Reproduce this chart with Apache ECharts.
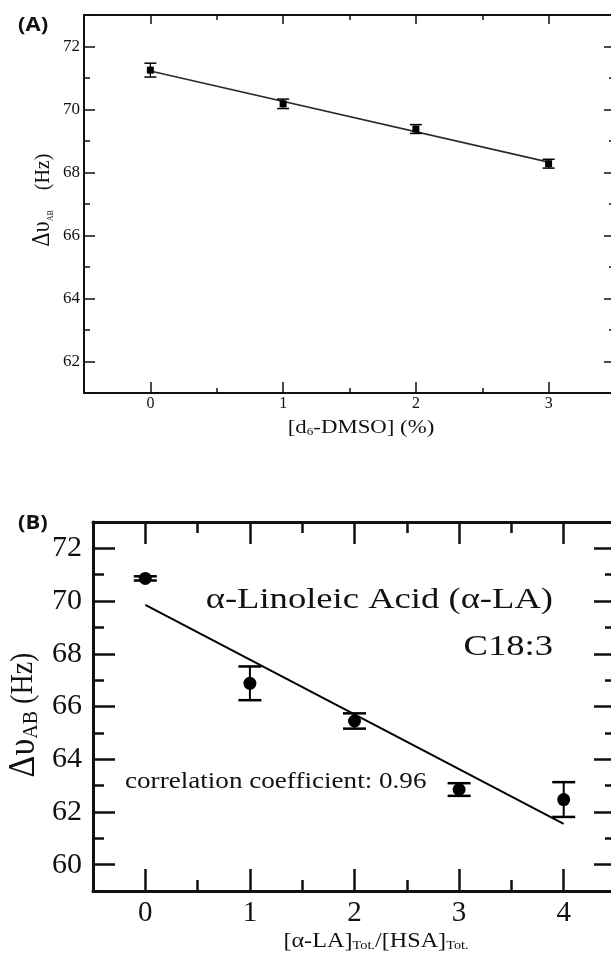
<!DOCTYPE html>
<html>
<head>
<meta charset="utf-8">
<script src="https://cdn.jsdelivr.net/npm/echarts@6/dist/echarts.min.js"></script>
<style>
  html, body { margin: 0; padding: 0; background: #fff; }
  #chart { width: 611px; height: 962px; }
</style>
</head>
<body>
<div id="chart"></div>
<script>
// Panel A: AB splitting vs d6-DMSO content
const dmsoPct = [0, 1, 2, 3];
const dmsoShift = [71.25, 70.18, 69.38, 68.28];
const dmsoErr = [0.22, 0.15, 0.14, 0.14];
const dmsoFitX = [0, 3];
const dmsoFitY = [71.22, 68.33];
const dmsoXTicks = [0, 1, 2, 3];
const dmsoYTicks = [62, 64, 66, 68, 70, 72];

// Panel B: AB splitting vs alpha-linolenic acid / HSA ratio
const laRatio = [0, 1, 2, 3, 4];
const laShift = [70.86, 66.88, 65.45, 62.85, 62.47];
const laErr = [0.08, 0.64, 0.29, 0.24, 0.66];
const laFitX = [0, 4];
const laFitY = [69.86, 61.55];
const laXTicks = [0, 1, 2, 3, 4];
const laYTicks = [60, 62, 64, 66, 68, 70, 72];

const SERIF = "'Liberation Serif', 'Times New Roman', Times, serif";

// One side of a framed plot: a major axis (line, long ticks, labels) and a
// minor axis sharing the same extent (short ticks only).
function sideAxes(o) {
  const major = {
    type: 'value', gridIndex: o.grid, position: o.position,
    min: o.min, max: o.max,
    axisLine: { show: true, onZero: false, lineStyle: { color: '#111', width: o.lw } },
    axisTick: { show: true, inside: true, length: o.majorLen, customValues: o.ticks,
                lineStyle: { color: '#111', width: o.tw } },
    axisLabel: o.labels ? {
      show: true, customValues: o.ticks, margin: o.margin,
      fontFamily: SERIF, fontSize: o.fontSize, color: '#111'
    } : { show: false },
    splitLine: { show: false }
  };
  const minor = {
    type: 'value', gridIndex: o.grid, position: o.position,
    min: o.min, max: o.max, interval: o.minorStep,
    axisLine: { show: false, onZero: false },
    axisTick: { show: true, inside: true, length: o.minorLen,
                lineStyle: { color: '#111', width: o.tw } },
    axisLabel: { show: false },
    splitLine: { show: false }
  };
  return [major, minor];
}

const xAxes = [
  ...sideAxes({ grid: 0, position: 'bottom', min: -0.5, max: 3.5, ticks: dmsoXTicks, minorStep: 0.5,
                lw: 2, tw: 1.5, majorLen: 11, minorLen: 5, labels: true, margin: 3, fontSize: 16 }),
  ...sideAxes({ grid: 0, position: 'top', min: -0.5, max: 3.5, ticks: dmsoXTicks, minorStep: 0.5,
                lw: 2, tw: 1.5, majorLen: 9, minorLen: 5, labels: false }),
  ...sideAxes({ grid: 1, position: 'bottom', min: -0.5, max: 4.5, ticks: laXTicks, minorStep: 0.5,
                lw: 3, tw: 2.5, majorLen: 22, minorLen: 11, labels: true, margin: 8, fontSize: 29 }),
  ...sideAxes({ grid: 1, position: 'top', min: -0.5, max: 4.5, ticks: laXTicks, minorStep: 0.5,
                lw: 3, tw: 2.5, majorLen: 22, minorLen: 11, labels: false })
];
const yAxes = [
  ...sideAxes({ grid: 0, position: 'left', min: 61, max: 73, ticks: dmsoYTicks, minorStep: 1,
                lw: 2, tw: 1.5, majorLen: 11, minorLen: 6, labels: true, margin: 4, fontSize: 17 }),
  ...sideAxes({ grid: 0, position: 'right', min: 61, max: 73, ticks: dmsoYTicks, minorStep: 1,
                lw: 2, tw: 1.5, majorLen: 11, minorLen: 6, labels: false }),
  ...sideAxes({ grid: 1, position: 'left', min: 59, max: 73, ticks: laYTicks, minorStep: 1,
                lw: 3, tw: 2.5, majorLen: 22, minorLen: 11, labels: true, margin: 11, fontSize: 30 }),
  ...sideAxes({ grid: 1, position: 'right', min: 59, max: 73, ticks: laYTicks, minorStep: 1,
                lw: 3, tw: 2.5, majorLen: 22, minorLen: 11, labels: false })
];

// Vertical error bars with caps, placed through the axis scales.
function errorBars(capHalf, lw, capW) {
  return function (params, api) {
    const x = api.value(0), y = api.value(1), e = api.value(2);
    const top = api.coord([x, y + e]);
    const bot = api.coord([x, y - e]);
    const bar = { stroke: '#000', lineWidth: lw };
    const cap = { stroke: '#000', lineWidth: capW };
    return {
      type: 'group',
      children: [
        { type: 'line', shape: { x1: top[0], y1: top[1], x2: bot[0], y2: bot[1] }, style: bar },
        { type: 'line', shape: { x1: top[0] - capHalf, y1: top[1], x2: top[0] + capHalf, y2: top[1] }, style: cap },
        { type: 'line', shape: { x1: bot[0] - capHalf, y1: bot[1], x2: bot[0] + capHalf, y2: bot[1] }, style: cap }
      ]
    };
  };
}

const zip = (xs, ys) => xs.map((x, i) => [x, ys[i]]);
const zip3 = (xs, ys, es) => xs.map((x, i) => [x, ys[i], es[i]]);

const series = [
  { type: 'line', xAxisIndex: 0, yAxisIndex: 0, data: zip(dmsoFitX, dmsoFitY),
    symbol: 'none', lineStyle: { color: '#2a2a2a', width: 1.6 }, z: 2 },
  { type: 'custom', xAxisIndex: 0, yAxisIndex: 0, data: zip3(dmsoPct, dmsoShift, dmsoErr),
    encode: { x: 0, y: 1 }, renderItem: errorBars(6, 1.3, 1.5), z: 3 },
  { type: 'scatter', xAxisIndex: 0, yAxisIndex: 0, data: zip(dmsoPct, dmsoShift),
    symbol: 'rect', symbolSize: 7, itemStyle: { color: '#000', opacity: 1 }, z: 4 },

  { type: 'line', xAxisIndex: 4, yAxisIndex: 4, data: zip(laFitX, laFitY),
    symbol: 'none', lineStyle: { color: '#000', width: 2 }, z: 2 },
  { type: 'custom', xAxisIndex: 4, yAxisIndex: 4, data: zip3(laRatio, laShift, laErr),
    encode: { x: 0, y: 1 }, renderItem: errorBars(11.5, 2, 2.5), z: 3 },
  { type: 'scatter', xAxisIndex: 4, yAxisIndex: 4, data: zip(laRatio, laShift),
    symbol: 'circle', symbolSize: 13, itemStyle: { color: '#000', opacity: 1 }, z: 4 }
];

function label(text, x, y, opts) {
  return Object.assign({
    type: 'text', x: x, y: y, z: 10,
    style: Object.assign({
      text: text, fill: '#111', fontFamily: SERIF,
      align: 'center', verticalAlign: 'middle'
    }, opts.style)
  }, opts.el || {});
}

const graphic = [
  label('(A)', 18, 25, { style: { fontFamily: 'Open Sans', fontWeight: 'bold', fontSize: 20, align: 'left' },
                         el: { scaleX: 1.1 } }),
  label('(B)', 18, 523, { style: { fontFamily: 'Open Sans', fontWeight: 'bold', fontSize: 20, align: 'left' },
                          el: { scaleX: 1.1 } }),

  label('{m|[d}{s|6}{m|-DMSO] (%)}', 361, 428, {
    style: { rich: {
      m: { fontFamily: SERIF, fontSize: 19, fill: '#111' },
      s: { fontFamily: SERIF, fontSize: 11, fill: '#111', verticalAlign: 'bottom' }
    } }, el: { scaleX: 1.2 } }),
  label('{d|Δυ}{s|AB}{h|    (Hz)}', 43, 200, {
    style: { rich: {
      d: { fontFamily: SERIF, fontSize: 22, fill: '#111' },
      s: { fontFamily: SERIF, fontSize: 8, fill: '#111', verticalAlign: 'bottom' },
      h: { fontFamily: SERIF, fontSize: 20, fill: '#111' }
    } }, el: { rotation: Math.PI / 2, scaleY: 1.1 } }),

  label('{m|[α-LA]}{s|Tot.}{m|/[HSA]}{s|Tot.}', 376, 941, {
    style: { rich: {
      m: { fontFamily: SERIF, fontSize: 22, fill: '#111' },
      s: { fontFamily: SERIF, fontSize: 13, fill: '#111', verticalAlign: 'bottom' }
    } }, el: { scaleX: 1.1 } }),
  label('{d|Δυ}{s|AB}{h| (Hz)}', 24, 715, {
    style: { rich: {
      d: { fontFamily: SERIF, fontSize: 34, fill: '#111' },
      s: { fontFamily: SERIF, fontSize: 20, fill: '#111', verticalAlign: 'bottom' },
      h: { fontFamily: SERIF, fontSize: 28, fill: '#111' }
    } }, el: { rotation: Math.PI / 2, scaleY: 1.1 } }),

  label('α-Linoleic Acid (α-LA)', 553, 600, { style: { fontSize: 30, align: 'right' }, el: { scaleX: 1.22 } }),
  label('C18:3', 553, 647, { style: { fontSize: 30, align: 'right' }, el: { scaleX: 1.22 } }),
  label('correlation coefficient: 0.96', 125, 782, { style: { fontSize: 24, align: 'left' }, el: { scaleX: 1.13 } })
];

const chart = echarts.init(document.getElementById('chart'), null, { renderer: 'canvas' });
chart.setOption({
  backgroundColor: '#fff',
  animation: false,
  grid: [
    { left: 84, top: 15, right: -4, bottom: 569, outerBoundsMode: 'none', containLabel: false },
    { left: 93, top: 522, right: -5, bottom: 71, outerBoundsMode: 'none', containLabel: false }
  ],
  xAxis: xAxes,
  yAxis: yAxes,
  series: series,
  graphic: graphic
});
</script>
</body>
</html>
